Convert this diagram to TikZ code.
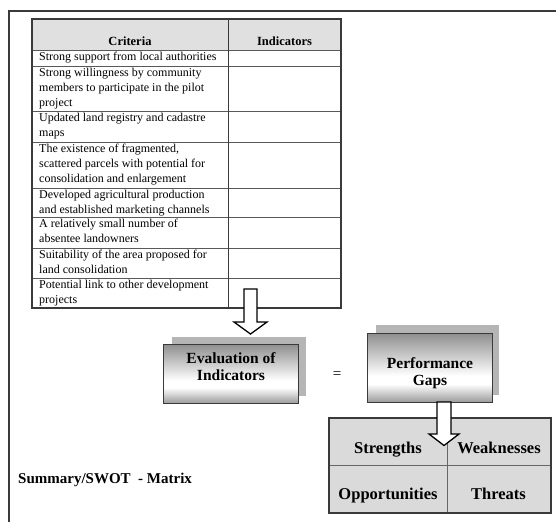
\documentclass[tikz,border=0pt]{standalone}
\usepackage{fontspec}
\setmainfont{Liberation Serif}
\definecolor{hdrfill}{HTML}{E0E0E0}
\definecolor{swotfill}{HTML}{DADADA}
\definecolor{shadowgray}{HTML}{B5B5B5}
\definecolor{shtop}{HTML}{8E8E8E}
\definecolor{shbot}{HTML}{9C9C9C}
\definecolor{edge}{HTML}{3A3A3A}
\pgfdeclareverticalshading{boxshade}{100bp}{color(0bp)=(shbot); color(25bp)=(shbot); color(38bp)=(white); color(44bp)=(white); color(75bp)=(shtop); color(100bp)=(shtop)}
\begin{document}
\begin{tikzpicture}[x=1pt,y=-1pt,
  celltext/.style={anchor=north west,inner sep=0pt,align=left,font=\fontsize{12}{14.8}\selectfont},
  hdrtext/.style={anchor=base,inner sep=0pt,font=\fontsize{12.5}{15}\selectfont\bfseries},
  shadowbox/.style={fill=shadowgray,draw=none,inner sep=0pt},
  frontbox/.style={shading=boxshade,draw=edge,line width=1pt,inner sep=0pt},
  boxtext/.style={anchor=north,inner sep=0pt,align=center,font=\fontsize{15.5}{17}\selectfont\bfseries},
  swottext/.style={anchor=base,inner sep=0pt,font=\fontsize{16.5}{19}\selectfont\bfseries},
  blockarrow/.style={fill=white,draw=black,line width=1.3pt,line join=miter}
]
\useasboundingbox (0,0) rectangle (556,522);
% outer frame
\draw[line width=1.5pt,edge] (9,522) -- (9,11) -- (556,11);

% table
\fill[hdrfill] (32,19) rectangle (341,50);
\foreach \yy in {50,66,111,142,188,217,248,278}
  \draw[line width=0.7pt,black!65] (32,\yy) -- (341,\yy);
\draw[line width=0.9pt,edge] (228,19) -- (228,308);
\draw[line width=1.3pt,edge] (32,19) rectangle (341,308);
\node[hdrtext] (hcrit) at (130,45) {Criteria};
\node[hdrtext] (hind) at (284.5,45) {Indicators};
\node[celltext] (r1) at (39,50.2) {\strut Strong support from local authorities};
\node[celltext] (r2) at (39,66.2) {\strut Strong willingness by community\\members to participate in the pilot\\project};
\node[celltext] (r3) at (39,111.2) {\strut Updated land registry and cadastre\\maps};
\node[celltext] (r4) at (39,142.0) {\strut The existence of fragmented,\\scattered parcels with potential for\\consolidation and enlargement};
\node[celltext] (r5) at (39,188.0) {\strut Developed agricultural production\\and established marketing channels};
\node[celltext] (r6) at (39,217.4) {\strut A relatively small number of\\absentee landowners};
\node[celltext] (r7) at (39,248.0) {\strut Suitability of the area proposed for\\land consolidation};
\node[celltext] (r8) at (39,278.0) {\strut Potential link to other development\\projects};

% arrow 1
\draw[blockarrow] (244,289) -- (244,322) -- (234,322) -- (250.5,334) -- (267,322) -- (257,322) -- (257,289) -- cycle;

% evaluation box
\node[shadowbox,minimum width=134pt,minimum height=59pt] (evalsh) at (239,366.5) {};
\node[frontbox,minimum width=135pt,minimum height=59pt] (eval) at (230.5,373.5) {};
\node[boxtext] (evaltext) at (231,351.2) {\strut Evaluation of\\Indicators};

% equals
\node[inner sep=0pt,font=\fontsize{15}{17}\selectfont] (eq) at (337,375) {=};

% performance box
\node[shadowbox,minimum width=123pt,minimum height=70pt] (perfsh) at (437.5,360) {};
\node[frontbox,minimum width=125pt,minimum height=69pt] (perf) at (429.5,367.5) {};
\node[boxtext] (perftext) at (430,356.2) {\strut Performance\\Gaps};

% SWOT matrix
\fill[swotfill] (329,418) rectangle (551,513);
\draw[line width=0.8pt,black!60] (329,465) -- (551,465);
\draw[line width=0.8pt,black!60] (447,418) -- (447,513);
\draw[line width=1.3pt,edge] (329,418) rectangle (551,513);
\node[swottext] (s) at (388,453) {Strengths};
\node[swottext] (w) at (499,453) {Weaknesses};
\node[swottext] (o) at (388,499) {Opportunities};
\node[swottext] (t) at (498.5,499) {Threats};

% arrow 2
\draw[blockarrow] (437,402) -- (437,434) -- (429,434) -- (444,445.5) -- (459,434) -- (451,434) -- (451,402) -- cycle;

% summary label
\node[anchor=base west,inner sep=0pt,font=\fontsize{15}{17}\selectfont\bfseries] (summary) at (18,483) {Summary/SWOT\ \ - Matrix};
\end{tikzpicture}
\end{document}
